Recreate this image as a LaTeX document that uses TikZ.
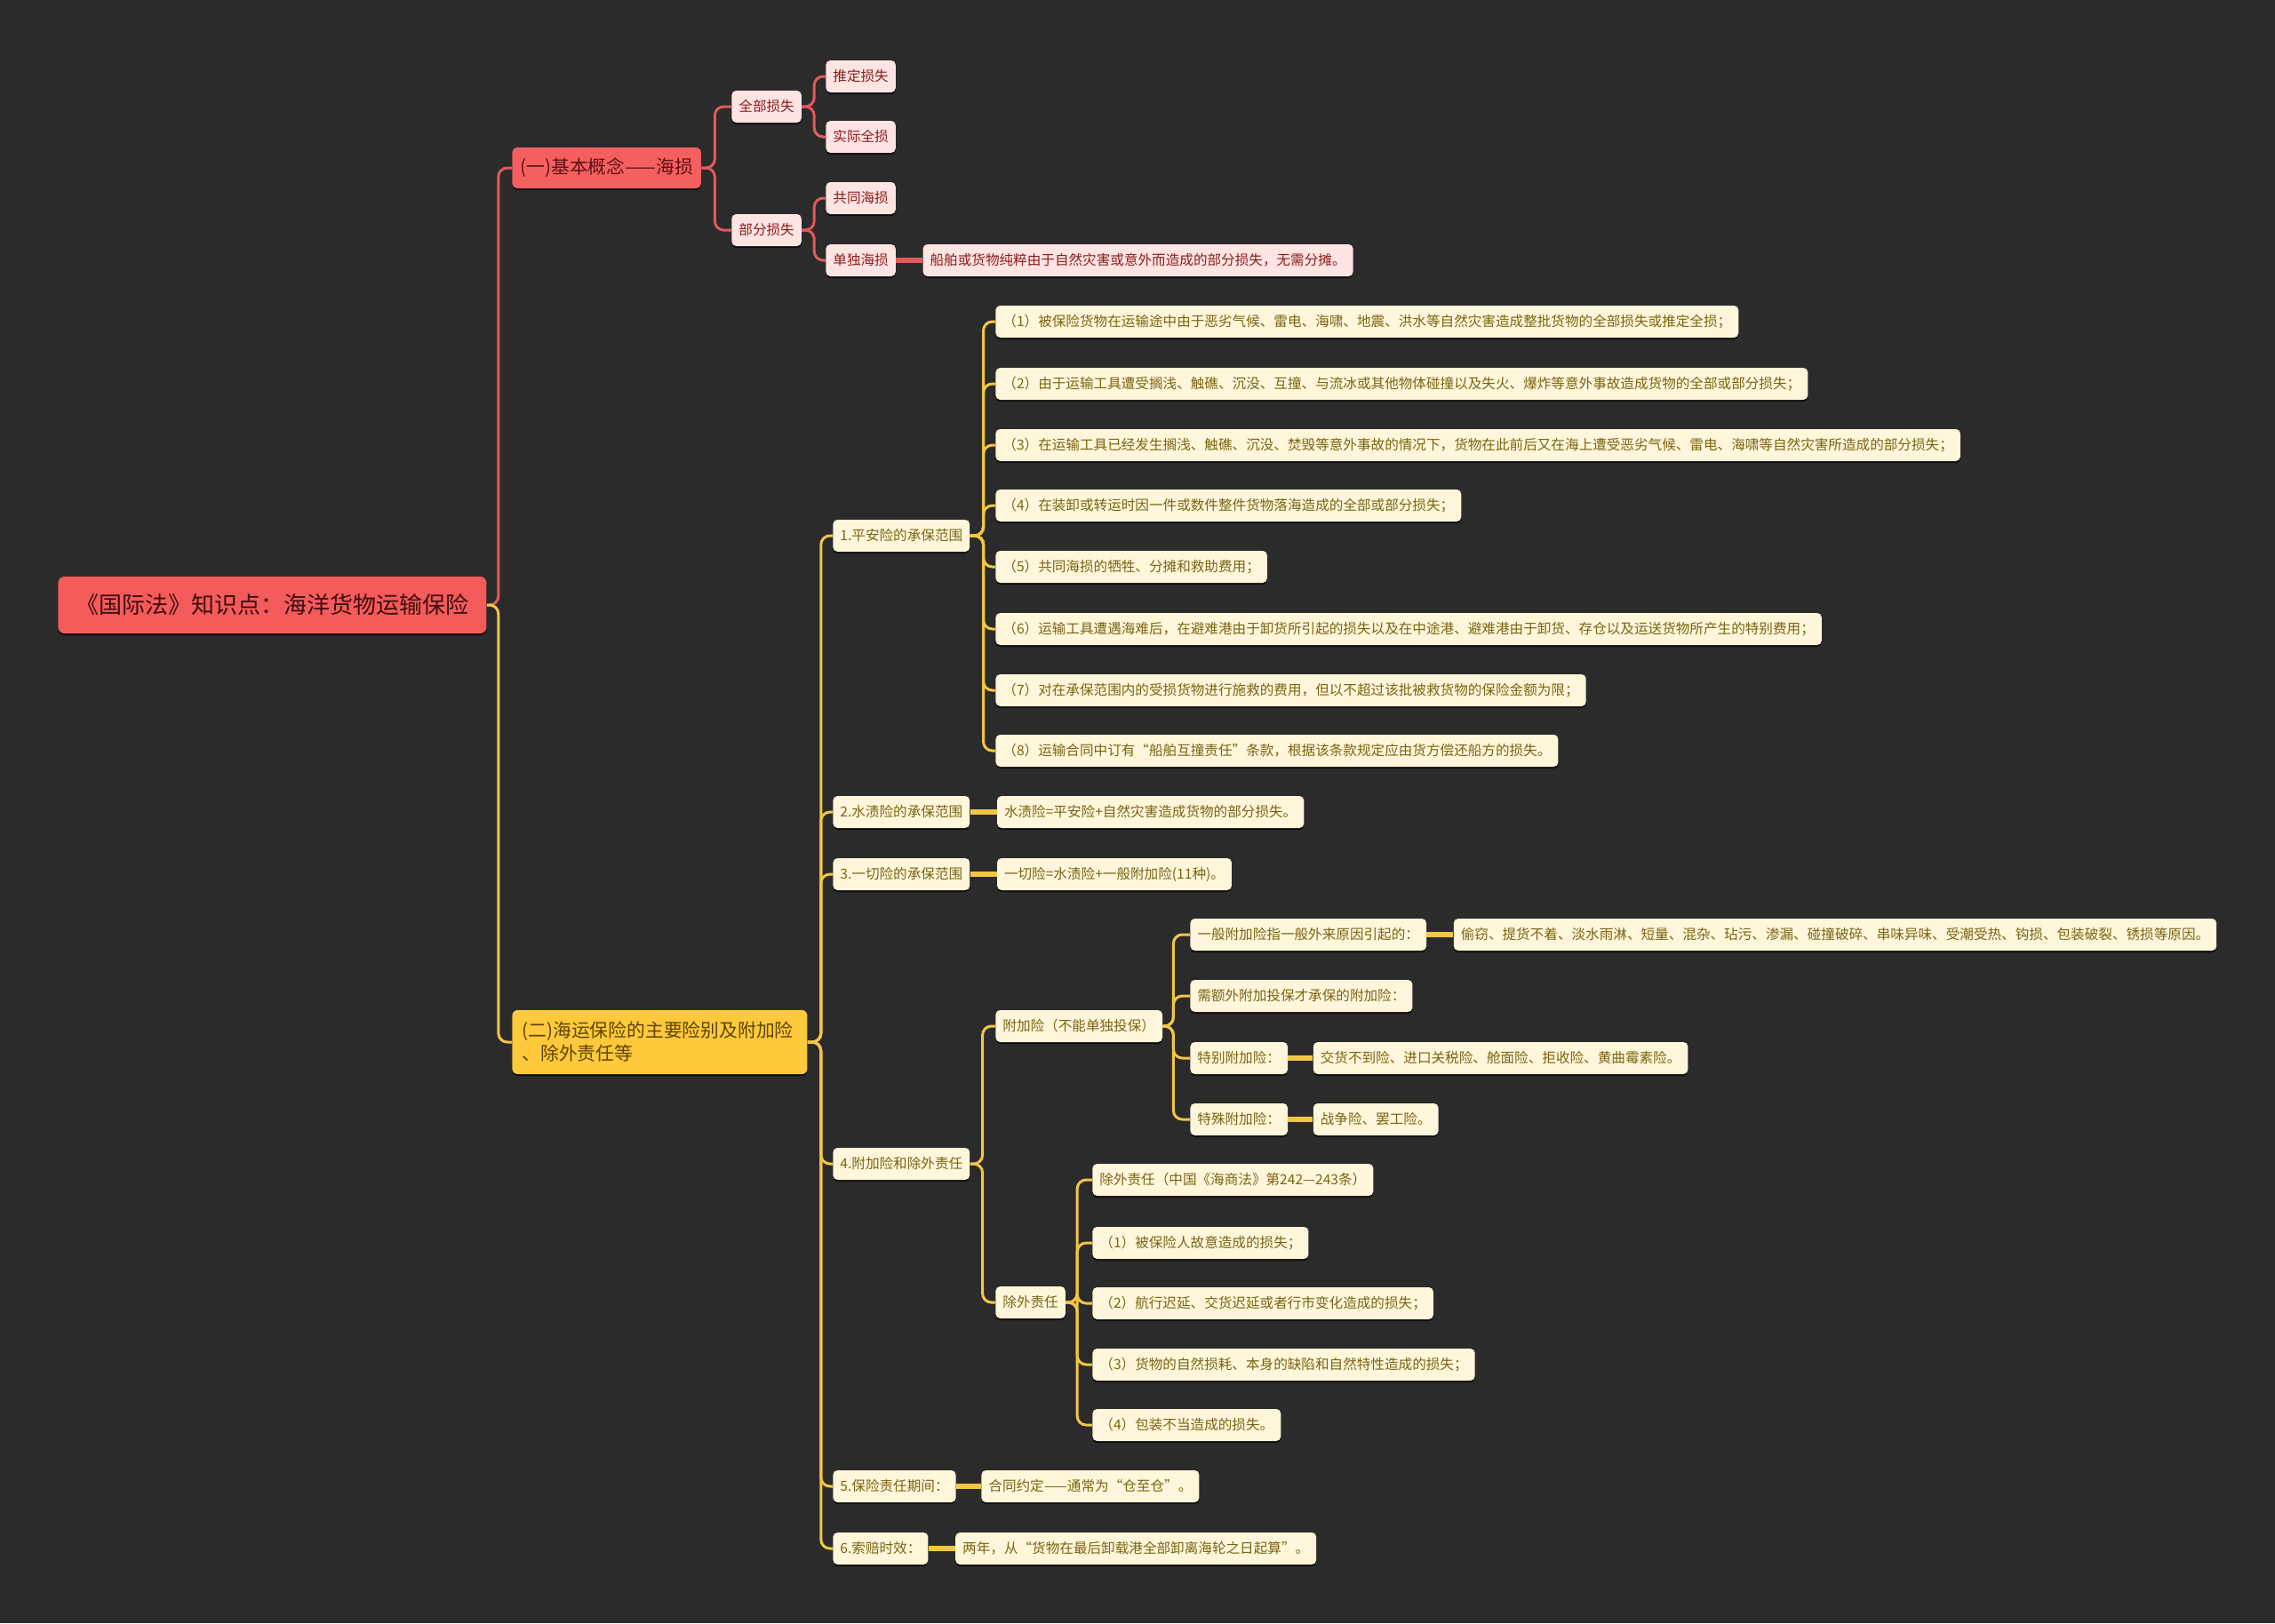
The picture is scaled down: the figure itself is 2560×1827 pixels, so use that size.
\documentclass[tikz,border=0pt]{standalone}
\usepackage{fontspec}
\setmainfont{Noto Sans CJK SC}
\usepackage{xcolor}
\definecolor{BgDark}{HTML}{2B2B2B}
\definecolor{RootRed}{HTML}{F45B5B}
\definecolor{RootText}{HTML}{3E0C0C}
\definecolor{TopicRed}{HTML}{F65F5F}
\definecolor{TopicRedText}{HTML}{5C1212}
\definecolor{PinkFill}{HTML}{FFE4E4}
\definecolor{PinkText}{HTML}{8C1C1C}
\definecolor{LineRed}{HTML}{E25A5A}
\definecolor{TopicGold}{HTML}{FFC93C}
\definecolor{TopicGoldText}{HTML}{5C4400}
\definecolor{CreamFill}{HTML}{FFF6DB}
\definecolor{OliveText}{HTML}{7A6412}
\definecolor{LineGold}{HTML}{F3C645}
\usetikzlibrary{positioning, shadows}

\tikzset{
  box/.style={rounded corners=2.5pt, inner xsep=4pt, inner ysep=0pt, minimum height=18pt,
    anchor=west, font=\fontsize{7.8}{9}\selectfont,
    drop shadow={shadow xshift=0pt, shadow yshift=-1pt, fill=black, opacity=0.7}},
  redleaf/.style={box, fill=PinkFill, text=PinkText},
  yleaf/.style={box, fill=CreamFill, text=OliveText},
  topic/.style={box, rounded corners=3pt, inner xsep=4.5pt, font=\fontsize{10.4}{13}\selectfont},
  redlink/.style={draw=LineRed, line width=1.5pt, rounded corners=5pt},
  ylink/.style={draw=LineGold, line width=1.5pt, rounded corners=5pt},
  leaflink/.style={line width=2.6pt, rounded corners=0pt},
}

\begin{document}
\begin{tikzpicture}[x=0.5pt, y=-0.5pt]
    % canvas
    \fill[BgDark] (0,0) rectangle (2560,1827);
    \useasboundingbox (0,0) rectangle (2560,1827);

    % Root
    \node (root) [box, fill=RootRed, text=RootText, rounded corners=3.5pt, inner xsep=10pt,
      minimum height=32pt, font=\fontsize{13}{16}\selectfont] at (65,681) {《国际法》知识点：海洋货物运输保险};

    % Branch one: sea damage
    \node (hs) [topic, fill=TopicRed, text=TopicRedText, minimum height=23pt] at (576,189) {(一)基本概念——海损};
    \node (qbss) [redleaf] at (823,120) {全部损失};
    \node (bfss) [redleaf] at (823,259) {部分损失};
    \node (tdss) [redleaf] at (929,86) {推定损失};
    \node (sjqs) [redleaf] at (929,154) {实际全损};
    \node (gths) [redleaf] at (929,223) {共同海损};
    \node (ddhs) [redleaf] at (929,293) {单独海损};
    \node (ddhsnote) [redleaf, right=15pt of ddhs] {船舶或货物纯粹由于自然灾害或意外而造成的部分损失，无需分摊。};

    % Branch two: risks and exclusions
    \node (xb) [topic, fill=TopicGold, text=TopicGoldText, align=left, text width=155pt,
      inner xsep=5.5pt, inner ysep=5pt, minimum height=36pt]
      at (576,1173) {(二)海运保险的主要险别及附加险\\、除外责任等};
    \node (pa) [yleaf] at (937,603) {1.平安险的承保范围};
    \node (sz) [yleaf] at (937,914) {2.水渍险的承保范围};
    \node (yq) [yleaf] at (937,984) {3.一切险的承保范围};
    \node (fj) [yleaf] at (937,1310) {4.附加险和除外责任};
    \node (qj) [yleaf] at (937,1673) {5.保险责任期间：};
    \node (sp) [yleaf] at (937,1743) {6.索赔时效：};

    \node (pa1) [yleaf] at (1120,362) {（1）被保险货物在运输途中由于恶劣气候、雷电、海啸、地震、洪水等自然灾害造成整批货物的全部损失或推定全损；};
    \node (pa2) [yleaf] at (1120,432) {（2）由于运输工具遭受搁浅、触礁、沉没、互撞、与流冰或其他物体碰撞以及失火、爆炸等意外事故造成货物的全部或部分损失；};
    \node (pa3) [yleaf] at (1120,501) {（3）在运输工具已经发生搁浅、触礁、沉没、焚毁等意外事故的情况下，货物在此前后又在海上遭受恶劣气候、雷电、海啸等自然灾害所造成的部分损失；};
    \node (pa4) [yleaf] at (1120,569) {（4）在装卸或转运时因一件或数件整件货物落海造成的全部或部分损失；};
    \node (pa5) [yleaf] at (1120,638) {（5）共同海损的牺牲、分摊和救助费用；};
    \node (pa6) [yleaf] at (1120,708) {（6）运输工具遭遇海难后，在避难港由于卸货所引起的损失以及在中途港、避难港由于卸货、存仓以及运送货物所产生的特别费用；};
    \node (pa7) [yleaf] at (1120,777) {（7）对在承保范围内的受损货物进行施救的费用，但以不超过该批被救货物的保险金额为限；};
    \node (pa8) [yleaf] at (1120,845) {（8）运输合同中订有“船舶互撞责任”条款，根据该条款规定应由货方偿还船方的损失。};

    \node (sznote) [yleaf, right=15pt of sz] {水渍险=平安险+自然灾害造成货物的部分损失。};
    \node (yqnote) [yleaf, right=15pt of yq] {一切险=水渍险+一般附加险(11种)。};

    \node (fjx) [yleaf] at (1120,1155) {附加险（不能单独投保）};
    \node (ybfj) [yleaf] at (1339,1052) {一般附加险指一般外来原因引起的：};
    \node (xefj) [yleaf] at (1339,1121) {需额外附加投保才承保的附加险：};
    \node (tbfj) [yleaf] at (1339,1191) {特别附加险：};
    \node (tsfj) [yleaf] at (1339,1260) {特殊附加险：};
    \node (ybnote) [yleaf, right=15pt of ybfj] {偷窃、提货不着、淡水雨淋、短量、混杂、玷污、渗漏、碰撞破碎、串味异味、受潮受热、钩损、包装破裂、锈损等原因。};
    \node (tbnote) [yleaf, right=14pt of tbfj] {交货不到险、进口关税险、舱面险、拒收险、黄曲霉素险。};
    \node (tsnote) [yleaf, right=14pt of tsfj] {战争险、罢工险。};

    \node (cw) [yleaf] at (1120,1466) {除外责任};
    \node (cw0) [yleaf] at (1229,1328) {除外责任（中国《海商法》第242—243条）};
    \node (cw1) [yleaf] at (1229,1399) {（1）被保险人故意造成的损失；};
    \node (cw2) [yleaf] at (1229,1467) {（2）航行迟延、交货迟延或者行市变化造成的损失；};
    \node (cw3) [yleaf] at (1229,1536) {（3）货物的自然损耗、本身的缺陷和自然特性造成的损失；};
    \node (cw4) [yleaf] at (1229,1604) {（4）包装不当造成的损失。};

    \node (qjnote) [yleaf, right=14pt of qj] {合同约定——通常为“仓至仓”。};
    \node (spnote) [yleaf, right=15pt of sp] {两年，从“货物在最后卸载港全部卸离海轮之日起算”。};

    % Connectors
    \draw[redlink] (root.east) -- ++(13,0) |- (hs.west);
    \draw[ylink] (root.east) -- ++(13,0) |- (xb.west);

    \foreach \c in {qbss, bfss} \draw[redlink] (hs.east) -- ++(15,0) |- (\c.west);
    \foreach \c in {tdss, sjqs} \draw[redlink] (qbss.east) -- ++(14,0) |- (\c.west);
    \foreach \c in {gths, ddhs} \draw[redlink] (bfss.east) -- ++(14,0) |- (\c.west);
    \draw[redlink, leaflink] (ddhs) -- (ddhsnote);

    \foreach \c in {pa, sz, yq, fj, qj, sp} \draw[ylink] (xb.east) -- ++(15,0) |- (\c.west);
    \foreach \c in {pa1, pa2, pa3, pa4, pa5, pa6, pa7, pa8} \draw[ylink] (pa.east) -- ++(15,0) |- (\c.west);
    \draw[ylink, leaflink] (sz) -- (sznote);
    \draw[ylink, leaflink] (yq) -- (yqnote);
    \foreach \c in {fjx, cw} \draw[ylink] (fj.east) -- ++(14,0) |- (\c.west);
    \foreach \c in {ybfj, xefj, tbfj, tsfj} \draw[ylink] (fjx.east) -- ++(12,0) |- (\c.west);
    \draw[ylink, leaflink] (ybfj) -- (ybnote);
    \draw[ylink, leaflink] (tbfj) -- (tbnote);
    \draw[ylink, leaflink] (tsfj) -- (tsnote);
    \foreach \c in {cw0, cw1, cw2, cw3, cw4} \draw[ylink] (cw.east) -- ++(13,0) |- (\c.west);
    \draw[ylink, leaflink] (qj) -- (qjnote);
    \draw[ylink, leaflink] (sp) -- (spnote);
\end{tikzpicture}
\end{document}
